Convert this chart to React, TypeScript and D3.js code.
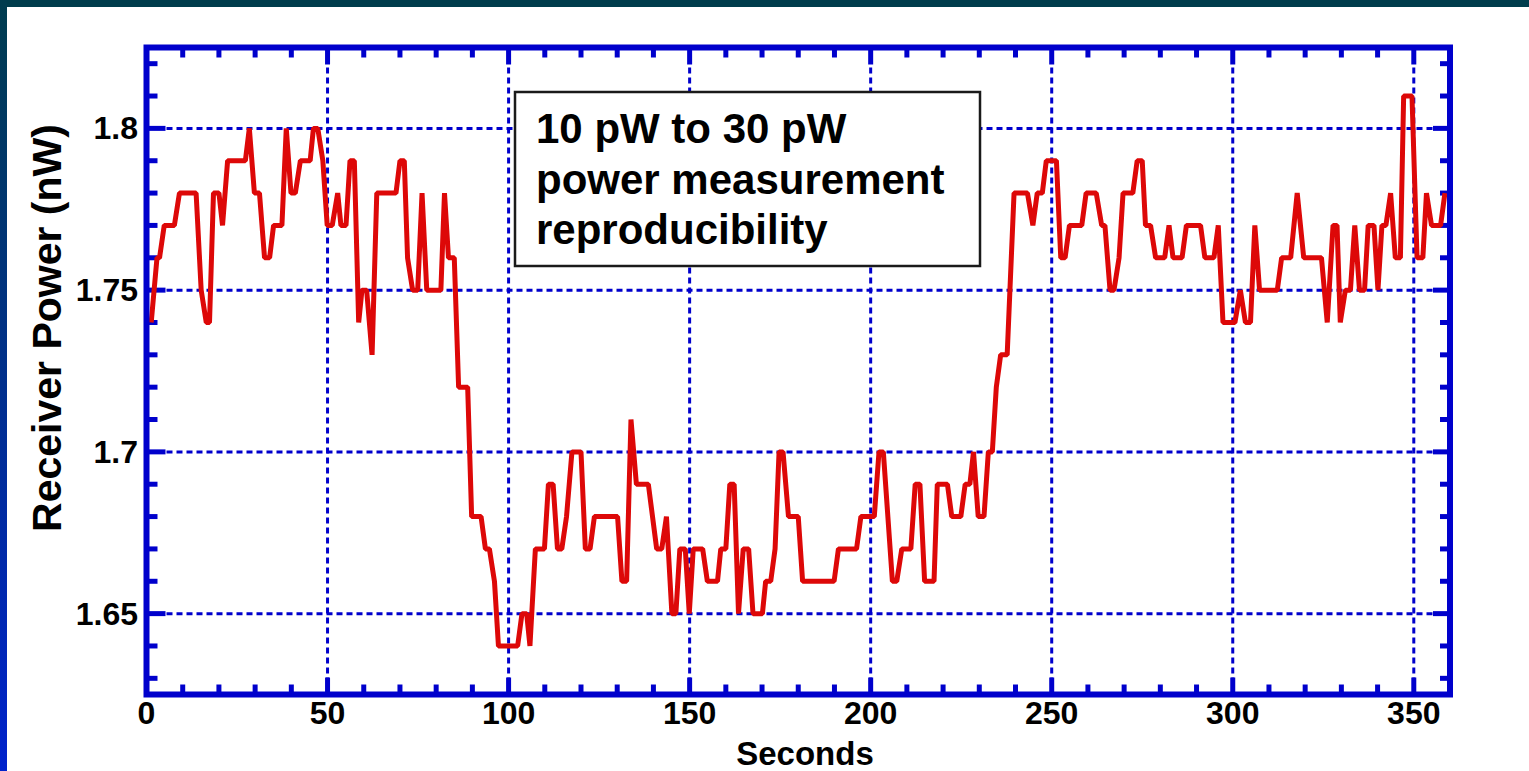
import React from 'react'
import * as d3 from 'd3'

// receiver power readings (seconds / nW)
const times = [
  1.3, 2.9, 3.6, 4.9, 7.7, 9.1, 13.7, 15.1, 16.5, 17.4, 18.5, 20.0, 21.0, 22.4, 27.3, 28.4, 29.8, 31.2, 32.6, 34.0,
  35.1, 37.4, 38.6, 39.9, 41.1, 42.5, 45.2, 46.1, 47.3, 48.7, 49.9, 51.3, 52.8, 53.7, 55.1, 56.2, 57.4, 58.6, 59.5, 60.8,
  62.3, 63.6, 68.9, 70.0, 71.2, 72.1, 73.5, 74.9, 76.1, 77.4, 81.3, 82.3, 83.4, 85.0, 86.2, 88.7, 89.8, 92.4, 93.6, 94.7,
  96.1, 97.2, 102.5, 103.7, 105.0, 105.9, 107.4, 109.9, 111.0, 112.3, 113.5, 114.7, 116.0, 117.5, 120.0, 121.2, 122.5, 123.7, 130.1, 131.3,
  132.6, 133.8, 135.3, 138.6, 140.9, 142.3, 143.6, 145.1, 146.2, 147.3, 148.8, 149.9, 151.0, 153.6, 154.9, 157.7, 158.6, 160.0, 161.1, 162.3,
  163.5, 164.8, 166.3, 167.5, 170.1, 171.0, 172.4, 173.6, 174.7, 175.8, 177.3, 180.0, 181.2, 189.9, 191.1, 196.1, 197.3, 201.0, 202.3, 203.5,
  206.0, 207.2, 208.6, 211.1, 212.3, 213.6, 214.9, 217.5, 218.4, 221.2, 222.4, 224.9, 226.1, 227.4, 228.4, 229.7, 231.3, 232.5, 233.6, 234.7,
  235.9, 237.7, 239.6, 243.3, 244.8, 246.0, 247.4, 248.5, 251.3, 252.5, 253.7, 254.9, 258.3, 259.5, 262.3, 263.8, 264.7, 266.1, 267.2, 268.6,
  269.7, 272.4, 273.6, 275.0, 275.9, 277.3, 278.7, 281.2, 282.4, 283.5, 286.0, 287.2, 291.1, 292.3, 294.8, 296.0, 297.3, 300.6, 302.1, 303.5,
  304.9, 306.1, 307.4, 312.3, 313.5, 316.0, 317.8, 319.6, 324.5, 326.1, 327.7, 328.8, 329.7, 331.1, 332.5, 333.7, 335.0, 336.4, 337.4, 339.0,
  340.1, 341.2, 342.3, 343.6, 344.9, 346.3, 347.2, 349.5, 350.9, 352.5, 353.5, 354.9, 357.4, 358.6
]
const power = [
  1.74, 1.76, 1.76, 1.77, 1.77, 1.78, 1.78, 1.75, 1.74, 1.74, 1.78, 1.78, 1.77, 1.79, 1.79, 1.80, 1.78, 1.78, 1.76, 1.76,
  1.77, 1.77, 1.80, 1.78, 1.78, 1.79, 1.79, 1.80, 1.80, 1.79, 1.77, 1.77, 1.78, 1.77, 1.77, 1.79, 1.79, 1.74, 1.75, 1.75,
  1.73, 1.78, 1.78, 1.79, 1.79, 1.76, 1.75, 1.75, 1.78, 1.75, 1.75, 1.78, 1.76, 1.76, 1.72, 1.72, 1.68, 1.68, 1.67, 1.67,
  1.66, 1.64, 1.64, 1.65, 1.65, 1.64, 1.67, 1.67, 1.69, 1.69, 1.67, 1.67, 1.68, 1.70, 1.70, 1.67, 1.67, 1.68, 1.68, 1.66,
  1.66, 1.71, 1.69, 1.69, 1.67, 1.67, 1.68, 1.65, 1.65, 1.67, 1.67, 1.65, 1.67, 1.67, 1.66, 1.66, 1.67, 1.67, 1.69, 1.69,
  1.65, 1.67, 1.67, 1.65, 1.65, 1.66, 1.66, 1.67, 1.70, 1.70, 1.68, 1.68, 1.66, 1.66, 1.67, 1.67, 1.68, 1.68, 1.70, 1.70,
  1.66, 1.66, 1.67, 1.67, 1.69, 1.69, 1.66, 1.66, 1.69, 1.69, 1.68, 1.68, 1.69, 1.69, 1.70, 1.68, 1.68, 1.70, 1.70, 1.72,
  1.73, 1.73, 1.78, 1.78, 1.77, 1.78, 1.78, 1.79, 1.79, 1.76, 1.76, 1.77, 1.77, 1.78, 1.78, 1.77, 1.77, 1.75, 1.75, 1.76,
  1.78, 1.78, 1.79, 1.79, 1.77, 1.77, 1.76, 1.76, 1.77, 1.76, 1.76, 1.77, 1.77, 1.76, 1.76, 1.77, 1.74, 1.74, 1.75, 1.74,
  1.74, 1.77, 1.75, 1.75, 1.76, 1.76, 1.78, 1.76, 1.76, 1.74, 1.77, 1.77, 1.74, 1.75, 1.75, 1.77, 1.75, 1.75, 1.77, 1.77,
  1.75, 1.77, 1.77, 1.78, 1.76, 1.76, 1.81, 1.81, 1.76, 1.76, 1.78, 1.77, 1.77, 1.78
]

const xTickLabels = [0, 50, 100, 150, 200, 250, 300, 350]
const yTickLabels = [1.65, 1.7, 1.75, 1.8]
const noteLines = ['10 pW to 30 pW', 'power measurement', 'reproducibility']

const FONT = "Arial, 'Liberation Sans', Helvetica, sans-serif"
const BLUE = '#0000cc'

export default function App() {
  const W = 1529
  const H = 771
  const plot = { left: 146.5, right: 1450, top: 47.5, bottom: 694.5 }

  const x = d3.scaleLinear().domain([0, 360]).range([plot.left, plot.right])
  const y = d3.scaleLinear().domain([1.625, 1.825]).range([plot.bottom, plot.top])

  const pts = times.map((t, i) => [t, power[i]] as [number, number])
  const line = d3.line<[number, number]>().x(d => x(d[0])).y(d => y(d[1]))

  // minor ticks every 10 s / 0.01 nW, majors at the labels
  const xMinor = d3.range(10, 360, 10).filter(v => v % 50 !== 0)
  const yMinor = d3.range(163, 183).map(v => v / 100).filter(v => !yTickLabels.some(t => Math.abs(t - v) < 1e-6))
  const major = 17
  const minor = 10

  return (
    <div style={{ position: 'absolute', left: 0, top: 0 }}>
      <style>{`body { margin: 0; }`}</style>
      <svg width={W} height={H} style={{ display: 'block', background: '#fff' }}>
        <defs>
          <linearGradient id="leftEdge" x1="0" y1="0" x2="0" y2="1">
            <stop offset="0%" stopColor="#003c4e" />
            <stop offset="100%" stopColor="#0022cc" />
          </linearGradient>
          <clipPath id="plotClip">
            <rect x={plot.left} y={plot.top} width={plot.right - plot.left} height={plot.bottom - plot.top} />
          </clipPath>
        </defs>

        {/* slide edges */}
        <rect x={0} y={0} width={W} height={7} fill="#003c4c" />
        <rect x={0} y={0} width={7} height={H} fill="url(#leftEdge)" />

        {/* grid */}
        <g stroke={BLUE} strokeWidth={3} strokeDasharray="6 4">
          {xTickLabels.filter(v => v > 0).map(v => (
            <line key={'gx' + v} x1={x(v)} x2={x(v)} y1={plot.top} y2={plot.bottom} />
          ))}
          {yTickLabels.map(v => (
            <line key={'gy' + v} x1={plot.left} x2={plot.right} y1={y(v)} y2={y(v)} />
          ))}
        </g>

        {/* ticks on all four sides */}
        <g stroke={BLUE} strokeWidth={5}>
          {xTickLabels.map(v => (
            <g key={'tx' + v}>
              <line x1={x(v)} x2={x(v)} y1={plot.bottom} y2={plot.bottom - major} />
              <line x1={x(v)} x2={x(v)} y1={plot.top} y2={plot.top + major} />
            </g>
          ))}
          {xMinor.map(v => (
            <g key={'mx' + v}>
              <line x1={x(v)} x2={x(v)} y1={plot.bottom} y2={plot.bottom - minor} />
              <line x1={x(v)} x2={x(v)} y1={plot.top} y2={plot.top + minor} />
            </g>
          ))}
          {yTickLabels.map(v => (
            <g key={'ty' + v}>
              <line x1={plot.left} x2={plot.left + major + 2} y1={y(v)} y2={y(v)} />
              <line x1={plot.right} x2={plot.right - major} y1={y(v)} y2={y(v)} />
            </g>
          ))}
          {yMinor.map(v => (
            <g key={'my' + v}>
              <line x1={plot.left} x2={plot.left + minor + 1} y1={y(v)} y2={y(v)} />
              <line x1={plot.right} x2={plot.right - minor} y1={y(v)} y2={y(v)} />
            </g>
          ))}
        </g>

        {/* data trace */}
        <path d={line(pts) || ''} fill="none" stroke="#dd0808" strokeWidth={5}
          strokeLinejoin="bevel" clipPath="url(#plotClip)" />

        {/* frame */}
        <rect x={plot.left} y={plot.top} width={plot.right - plot.left} height={plot.bottom - plot.top}
          fill="none" stroke={BLUE} strokeWidth={6} />

        {/* note box */}
        <rect x={515} y={92} width={465} height={174} fill="#fff" stroke="#1a1a1a" strokeWidth={2.5} />
        <g fontFamily={FONT} fontWeight="bold" fontSize={42} fill="#000">
          {noteLines.map((s, i) => (
            <text key={s} x={536} y={143 + i * 50.5}>{s}</text>
          ))}
        </g>

        {/* tick labels */}
        <g fontFamily={FONT} fontWeight="bold" fontSize={32} fill="#000">
          {xTickLabels.map(v => (
            <text key={'lx' + v} x={x(v)} y={724} textAnchor="middle">{v}</text>
          ))}
          {yTickLabels.map(v => (
            <text key={'ly' + v} x={138} y={y(v) + 11} textAnchor="end">{d3.format('')(v)}</text>
          ))}
        </g>

        {/* axis titles */}
        <text x={805} y={765} textAnchor="middle" fontFamily={FONT} fontWeight="bold" fontSize={33}>Seconds</text>
        <text transform="translate(61,328) rotate(-90)" textAnchor="middle" fontFamily={FONT}
          fontWeight="bold" fontSize={41}>Receiver Power (nW)</text>
      </svg>
    </div>
  )
}
